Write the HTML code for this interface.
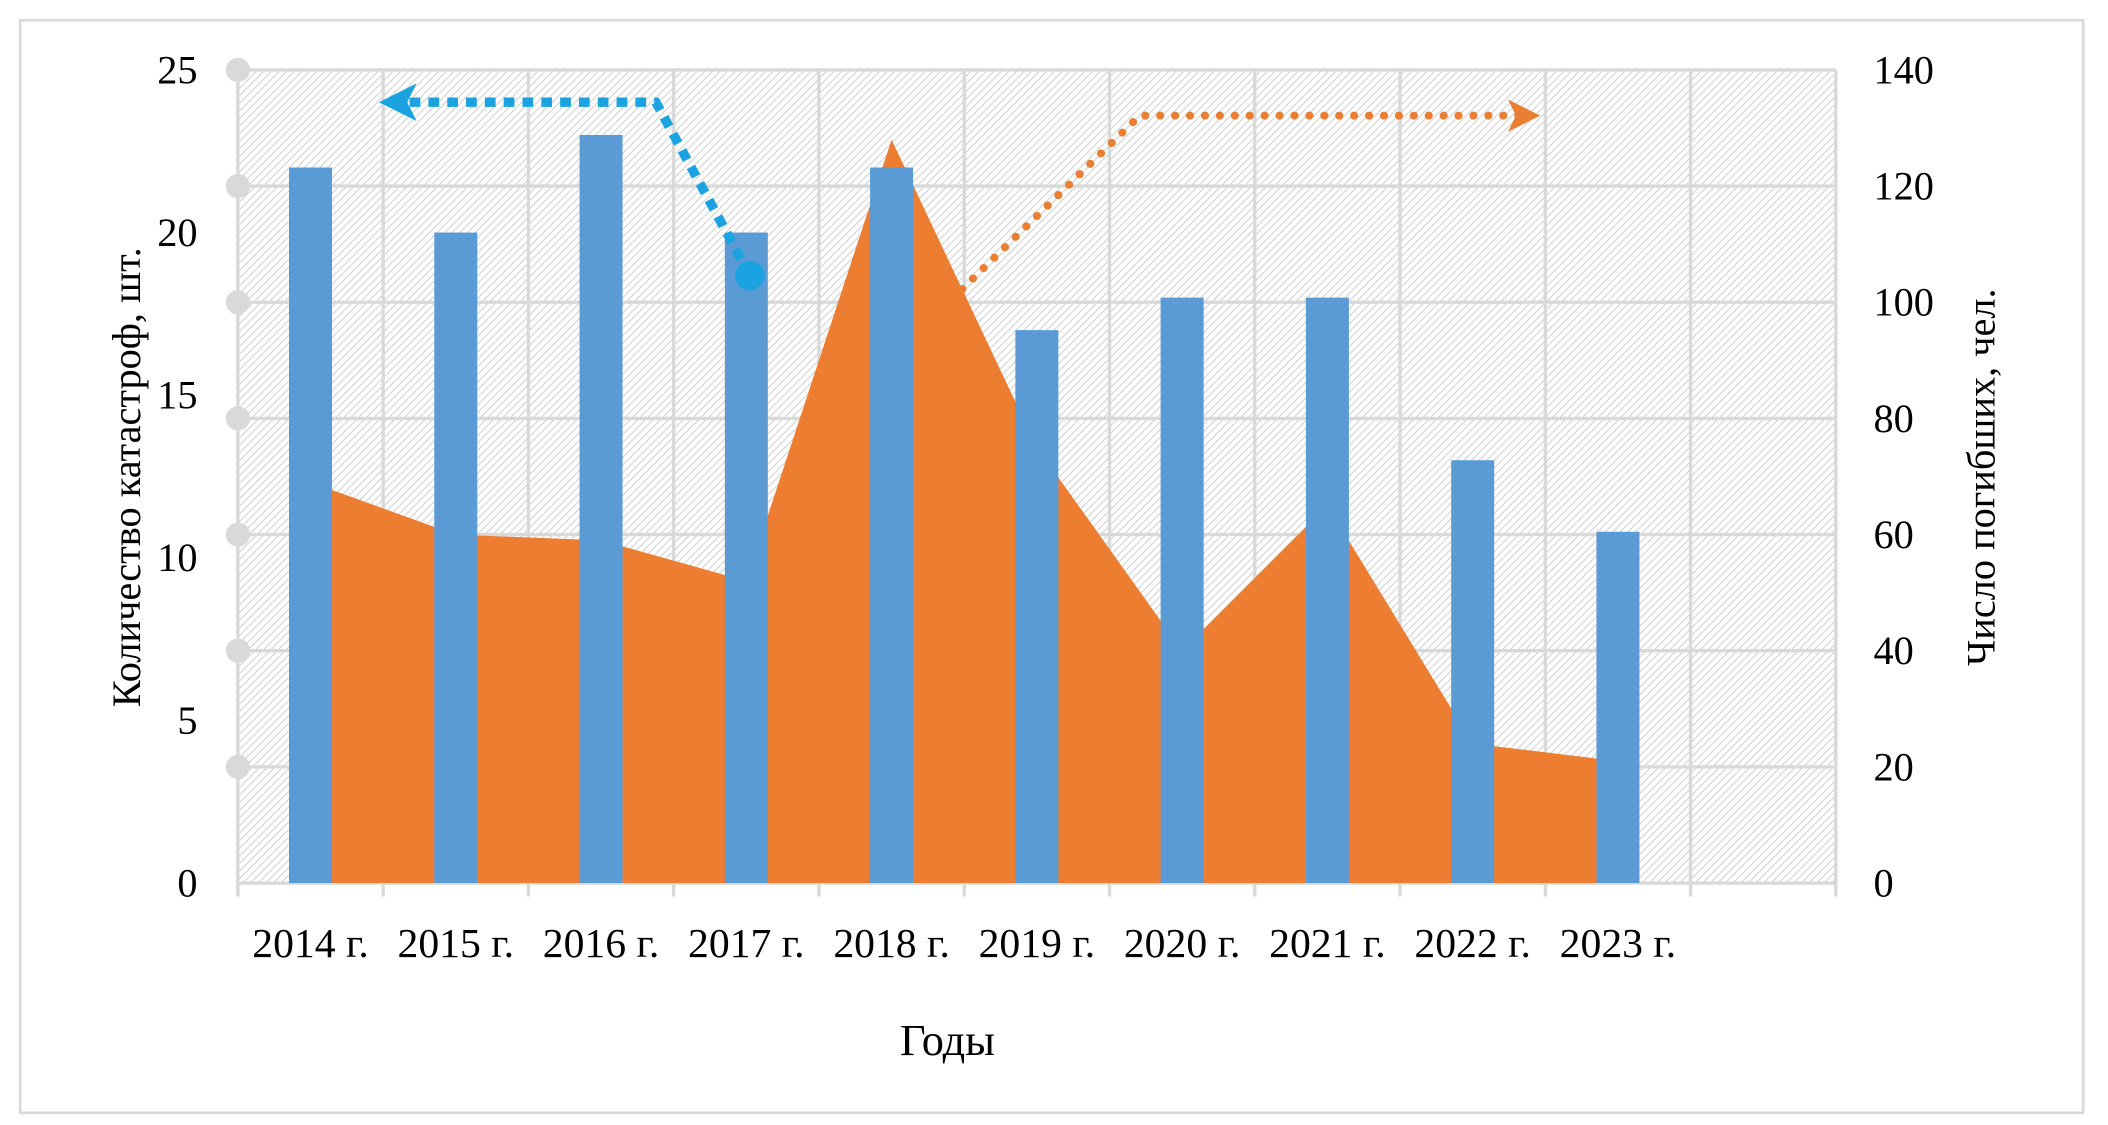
<!DOCTYPE html>
<html><head><meta charset="utf-8"><style>
html,body{margin:0;padding:0;background:#fff;width:2108px;height:1125px;overflow:hidden}
svg{display:block}
text{font-family:"Liberation Serif",serif;fill:#000}
</style></head><body>
<svg id="chart" width="2108" height="1125" viewBox="0 0 1568.5 837" xmlns="http://www.w3.org/2000/svg">
<defs>
<pattern id="hatch" patternUnits="userSpaceOnUse" width="4" height="4" patternTransform="rotate(45)">
<line x1="0" y1="0" x2="0" y2="4" stroke="#c8c8c8" stroke-width="1.3"/>
</pattern>
<marker id="arrB" markerWidth="4" markerHeight="4" refX="2" refY="2" orient="auto"><path d="M0,0 L4,2 L0,4 L1,2 Z" fill="#1aa3e0"/></marker>
<marker id="arrO" markerWidth="4" markerHeight="4" refX="2" refY="2" orient="auto"><path d="M0,0 L4,2 L0,4 L1,2 Z" fill="#e97f33"/></marker>
</defs>
<rect x="15" y="15" width="1535" height="813" fill="#fff" stroke="#d9d9d9" stroke-width="2"/>
<g id="plot"></g>
<text x="705" y="785" font-size="33" text-anchor="middle">Годы</text>
<text transform="translate(104,355) rotate(-90)" font-size="30" text-anchor="middle">Количество катастроф, шт.</text>
<text transform="translate(1484,355) rotate(-90)" font-size="30" text-anchor="middle">Число погибших, чел.</text>
</svg>
<script>
const categories=["2014 г.","2015 г.","2016 г.","2017 г.","2018 г.","2019 г.","2020 г.","2021 г.","2022 г.","2023 г."];
const disasters=[22,20,23,20,22,17,18,18,13,10.8];
const deaths=[69,60,59,52,128,75,40,65,24,21];
const leftTicks=[0,5,10,15,20,25];
const rightTicks=[0,20,40,60,80,100,120,140];
const NS="http://www.w3.org/2000/svg";
const L=177,R=1366,T=52,B=657,NCAT=11;
const step=(R-L)/NCAT;
const xc=i=>L+step*(i+0.5);
const yL=v=>B-(v/25)*(B-T);
const yR=v=>B-(v/140)*(B-T);
const g=document.getElementById('plot');
function mk(tag,attrs){const e=document.createElementNS(NS,tag);for(const k in attrs)e.setAttribute(k,attrs[k]);g.appendChild(e);return e;}
const bg=mk('rect',{x:L,y:T,width:R-L,height:B-T,fill:'url(#hatch)'});


rightTicks.forEach(v=>{const l=mk('line',{x1:L,x2:R,y1:yR(v),y2:yR(v),stroke:'#d9d9d9','stroke-width':2.5});

});
for(let i=0;i<=NCAT;i++){const x=L+step*i;const l=mk('line',{x1:x,x2:x,y1:T,y2:B+10,stroke:'#d9d9d9','stroke-width':2.5});

}
rightTicks.slice(1).forEach(v=>{const c=mk('circle',{cx:L,cy:yR(v),r:9,fill:'#d9d9d9'});

});
let d=`M${xc(0)},${B}`;deaths.forEach((v,i)=>{d+=` L${xc(i)},${yR(v)}`;});d+=` L${xc(deaths.length-1)},${B} Z`;
const area=mk('path',{d:d,fill:'#ed7d31'});


const bw=32;
disasters.forEach((v,i)=>{const r=mk('rect',{x:xc(i)-bw/2,y:yL(v),width:bw,height:B-yL(v),fill:'#5b9bd5'});

});
leftTicks.forEach(v=>{const t=mk('text',{x:147,y:yL(v)+10,'font-size':30,'text-anchor':'end'});t.textContent=v;

});
rightTicks.forEach(v=>{const t=mk('text',{x:1394,y:yR(v)+10,'font-size':30,'text-anchor':'start'});t.textContent=v;

});
categories.forEach((c,i)=>{const t=mk('text',{x:xc(i),y:712,'font-size':31,'text-anchor':'middle'});t.textContent=c;

});
const bl=mk('polyline',{points:'558,205 488,76 296,76',fill:'none',stroke:'#1aa3e0','stroke-width':7,'stroke-dasharray':'8 6','marker-end':'url(#arrB)'});


const bc=mk('circle',{cx:558,cy:205,r:11,fill:'#1aa3e0'});


const ol=mk('polyline',{points:'716,215 848,86 1134,86',fill:'none',stroke:'#e97f33','stroke-width':6,'stroke-dasharray':'0.1 11','stroke-linecap':'round','marker-end':'url(#arrO)'});


</script>
</body></html>
